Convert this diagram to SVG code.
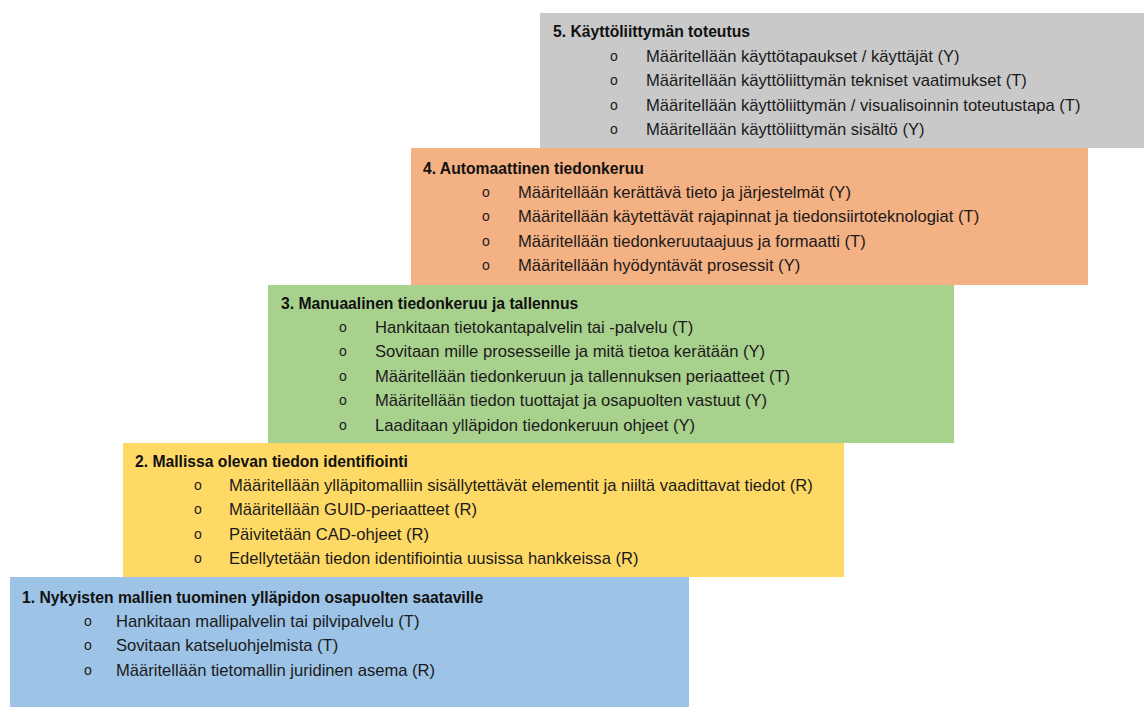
<svg xmlns="http://www.w3.org/2000/svg" width="1144" height="707" viewBox="0 0 1144 707">
<style>
.t{font-family:"Liberation Sans",Arial,sans-serif;font-size:15.7px;font-weight:bold;fill:#111}
.i{font-family:"Liberation Sans",Arial,sans-serif;font-size:16.6px;fill:#1a1a1a}
.b{font-family:"Liberation Sans",Arial,sans-serif;font-size:14px;fill:#1a1a1a}
</style>
<rect width="1144" height="707" fill="#ffffff"/>
<g id="step5">
<rect x="540" y="13" width="604" height="135" fill="#c9c9c9"/>
<text class="t" x="553" y="37">5. Käyttöliittymän toteutus</text>
<text class="b" x="610" y="61">o</text><text class="i" x="646" y="62">Määritellään käyttötapaukset / käyttäjät (Y)</text>
<text class="b" x="610" y="85">o</text><text class="i" x="646" y="86">Määritellään käyttöliittymän tekniset vaatimukset (T)</text>
<text class="b" x="610" y="110">o</text><text class="i" x="646" y="111">Määritellään käyttöliittymän / visualisoinnin toteutustapa (T)</text>
<text class="b" x="610" y="134">o</text><text class="i" x="646" y="135">Määritellään käyttöliittymän sisältö (Y)</text>
</g>
<g id="step4">
<rect x="411" y="148" width="677" height="137" fill="#f4b183"/>
<text class="t" x="423" y="174">4. Automaattinen tiedonkeruu</text>
<text class="b" x="482" y="197">o</text><text class="i" x="518" y="198">Määritellään kerättävä tieto ja järjestelmät (Y)</text>
<text class="b" x="482" y="221">o</text><text class="i" x="518" y="222">Määritellään käytettävät rajapinnat ja tiedonsiirtoteknologiat (T)</text>
<text class="b" x="482" y="246">o</text><text class="i" x="518" y="247">Määritellään tiedonkeruutaajuus ja formaatti (T)</text>
<text class="b" x="482" y="270">o</text><text class="i" x="518" y="271">Määritellään hyödyntävät prosessit (Y)</text>
</g>
<g id="step3">
<rect x="268" y="285" width="686" height="158" fill="#a9d18e"/>
<text class="t" x="281" y="309">3. Manuaalinen tiedonkeruu ja tallennus</text>
<text class="b" x="339" y="332">o</text><text class="i" x="375" y="333">Hankitaan tietokantapalvelin tai -palvelu (T)</text>
<text class="b" x="339" y="356">o</text><text class="i" x="375" y="357">Sovitaan mille prosesseille ja mitä tietoa kerätään (Y)</text>
<text class="b" x="339" y="381">o</text><text class="i" x="375" y="382">Määritellään tiedonkeruun ja tallennuksen periaatteet (T)</text>
<text class="b" x="339" y="405">o</text><text class="i" x="375" y="406">Määritellään tiedon tuottajat ja osapuolten vastuut (Y)</text>
<text class="b" x="339" y="430">o</text><text class="i" x="375" y="431">Laaditaan ylläpidon tiedonkeruun ohjeet (Y)</text>
</g>
<g id="step2">
<rect x="123" y="443" width="721" height="134" fill="#ffd966"/>
<text class="t" x="135" y="467">2. Mallissa olevan tiedon identifiointi</text>
<text class="b" x="194" y="490">o</text><text class="i" x="229" y="491">Määritellään ylläpitomalliin sisällytettävät elementit ja niiltä vaadittavat tiedot (R)</text>
<text class="b" x="194" y="514">o</text><text class="i" x="229" y="515">Määritellään GUID-periaatteet (R)</text>
<text class="b" x="194" y="539">o</text><text class="i" x="229" y="540">Päivitetään CAD-ohjeet (R)</text>
<text class="b" x="194" y="563">o</text><text class="i" x="229" y="564">Edellytetään tiedon identifiointia uusissa hankkeissa (R)</text>
</g>
<g id="step1">
<rect x="10" y="577" width="679" height="130" fill="#9dc3e6"/>
<text class="t" x="22" y="603">1. Nykyisten mallien tuominen ylläpidon osapuolten saataville</text>
<text class="b" x="84" y="626">o</text><text class="i" x="116" y="627">Hankitaan mallipalvelin tai pilvipalvelu (T)</text>
<text class="b" x="84" y="650">o</text><text class="i" x="116" y="651">Sovitaan katseluohjelmista (T)</text>
<text class="b" x="84" y="675">o</text><text class="i" x="116" y="676">Määritellään tietomallin juridinen asema (R)</text>
</g>
<g id="connectors"></g>
</svg>
